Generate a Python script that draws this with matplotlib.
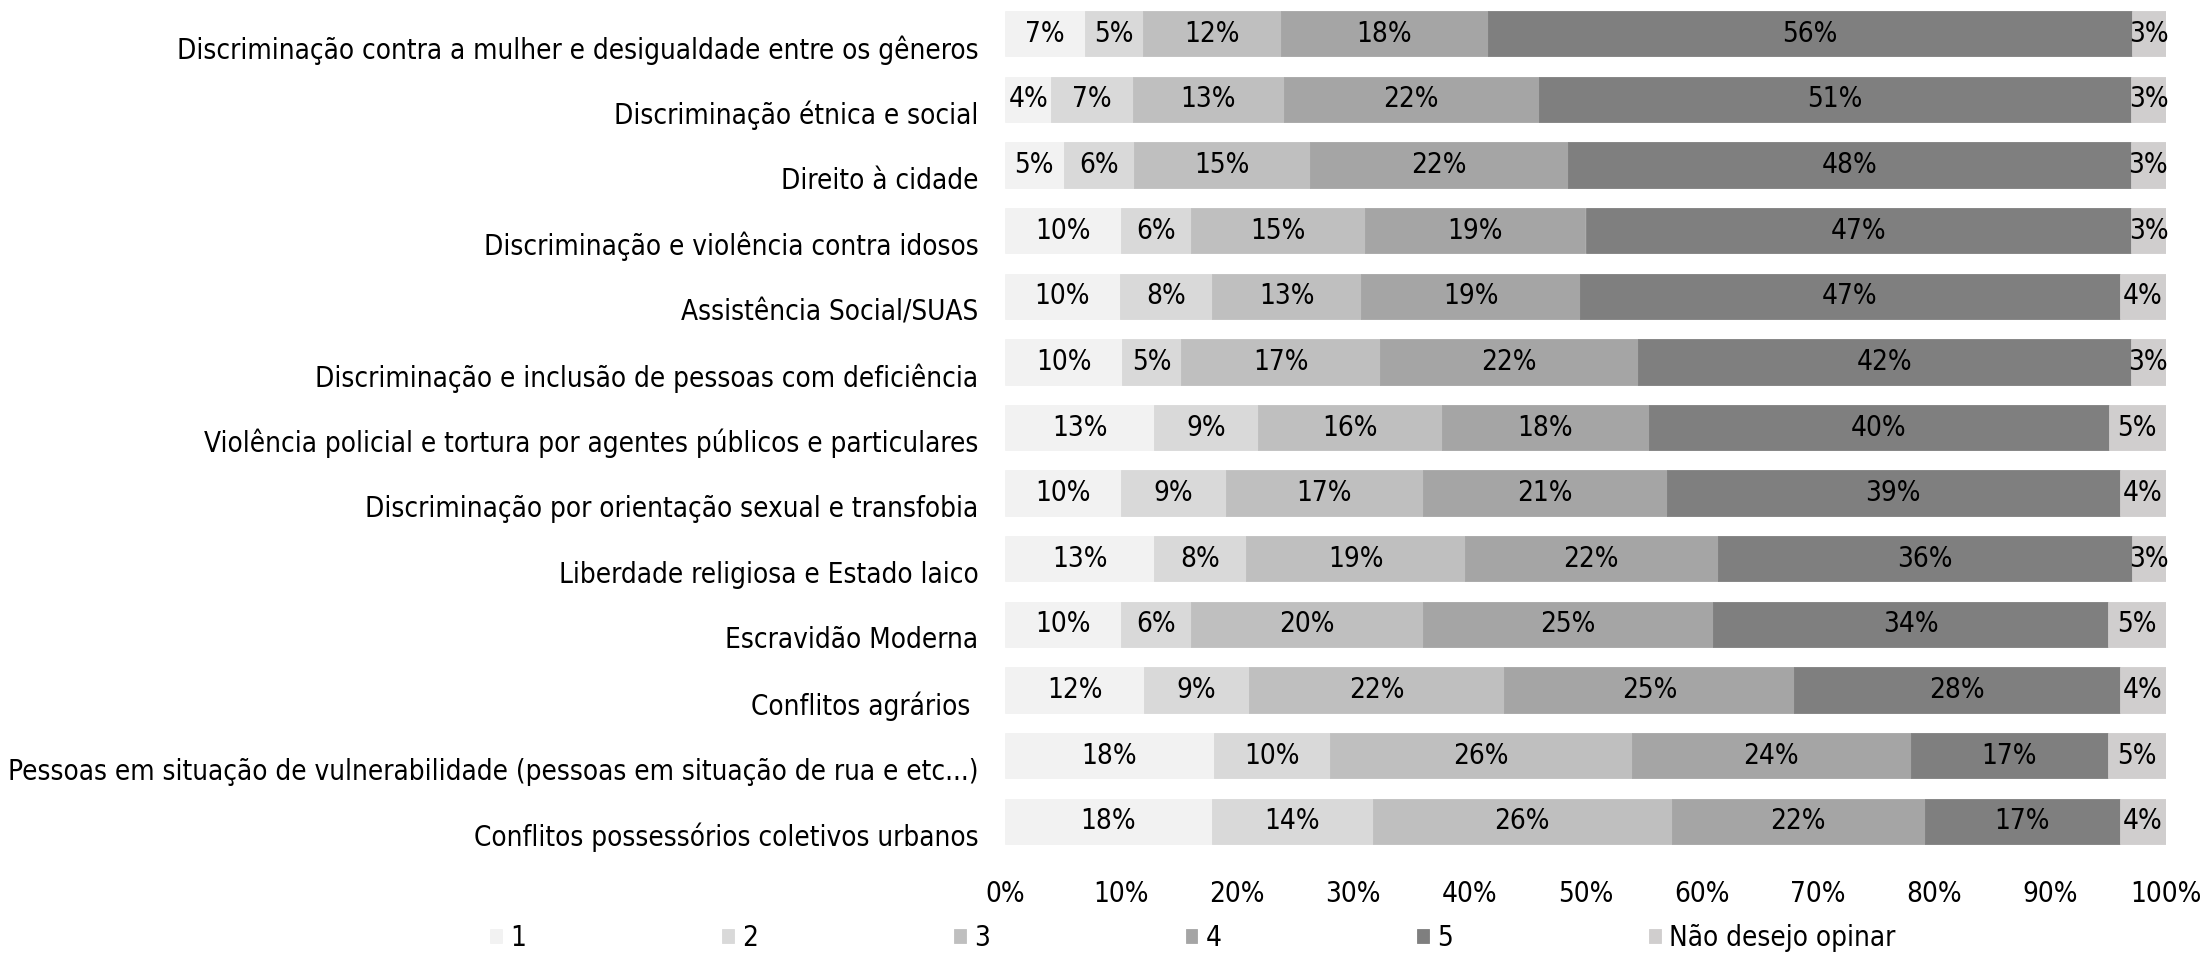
import numpy as np
import matplotlib
matplotlib.use("Agg")
import matplotlib.pyplot as plt
import matplotlib.transforms as mtransforms
from matplotlib.ticker import FuncFormatter

# condensed sans, closest to the narrow font of the original
plt.rcParams['font.family'] = ['DejaVu Sans']
plt.rcParams['font.stretch'] = 'condensed'

categories = [
    "Discriminação contra a mulher e desigualdade entre os gêneros",
    "Discriminação étnica e social",
    "Direito à cidade",
    "Discriminação e violência contra idosos",
    "Assistência Social/SUAS",
    "Discriminação e inclusão de pessoas com deficiência",
    "Violência policial e tortura por agentes públicos e particulares",
    "Discriminação por orientação sexual e transfobia",
    "Liberdade religiosa e Estado laico",
    "Escravidão Moderna",
    "Conflitos agrários ",
    "Pessoas em situação de vulnerabilidade (pessoas em situação de rua e etc...)",
    "Conflitos possessórios coletivos urbanos",
]

series_names = ["1", "2", "3", "4", "5", "Não desejo opinar"]

s1 = [7, 4, 5, 10, 10, 10, 13, 10, 13, 10, 12, 18, 18]
s2 = [5, 7, 6, 6, 8, 5, 9, 9, 8, 6, 9, 10, 14]
s3 = [12, 13, 15, 15, 13, 17, 16, 17, 19, 20, 22, 26, 26]
s4 = [18, 22, 22, 19, 19, 22, 18, 21, 22, 25, 25, 24, 22]
s5 = [56, 51, 48, 47, 47, 42, 40, 39, 36, 34, 28, 17, 17]
s6 = [3, 3, 3, 3, 4, 3, 5, 4, 3, 5, 4, 5, 4]

colors = ["#F2F2F2", "#D9D9D9", "#BFBFBF", "#A5A5A5", "#7F7F7F", "#D0CECE"]

W, H = 2201, 957
fig = plt.figure(figsize=(W / 100, H / 100), dpi=100)
ax = fig.add_axes([1005 / W, 1 - 854 / H, 1161 / W, 853 / H])

data = np.array([s1, s2, s3, s4, s5, s6], dtype=float)
totals = data.sum(axis=0)
frac = data / totals
y = np.arange(len(categories))
fs = 20

left = np.zeros(len(categories))
for i, name in enumerate(series_names):
    ax.barh(y, frac[i], left=left, height=0.69, color=colors[i], label=name,
            edgecolor=colors[i], linewidth=0.6)
    for j in range(len(categories)):
        ax.text(left[j] + frac[i][j] / 2, y[j], "{}%".format(int(data[i][j])),
                ha="center", va="center", fontsize=fs, color="black")
    left += frac[i]

ax.set_ylim(len(categories) - 0.5, -0.5)
ax.set_xlim(0, 1)
ax.set_yticks(y)
ax.set_yticklabels(categories, fontsize=fs)
ax.set_xticks(np.linspace(0, 1, 11))
ax.xaxis.set_major_formatter(FuncFormatter(lambda v, p: "{:.0f}%".format(v * 100)))
ax.tick_params(axis="x", length=0, pad=19, labelsize=fs)
ax.tick_params(axis="y", length=0, pad=19)
for s in ax.spines.values():
    s.set_visible(False)

# category labels sit a little below the bar centres in the original
shift = mtransforms.ScaledTranslation(0, -0.13, fig.dpi_scale_trans)
for lab in ax.get_yticklabels():
    lab.set_transform(lab.get_transform() + shift)

fig.legend(loc="center", bbox_to_anchor=(0.542, 1 - 938 / H), ncol=6,
           frameon=False, fontsize=fs, handlelength=0.42, handleheight=0.42,
           handletextpad=0.3, columnspacing=7.05)

fig.savefig("out.png", dpi=100)
